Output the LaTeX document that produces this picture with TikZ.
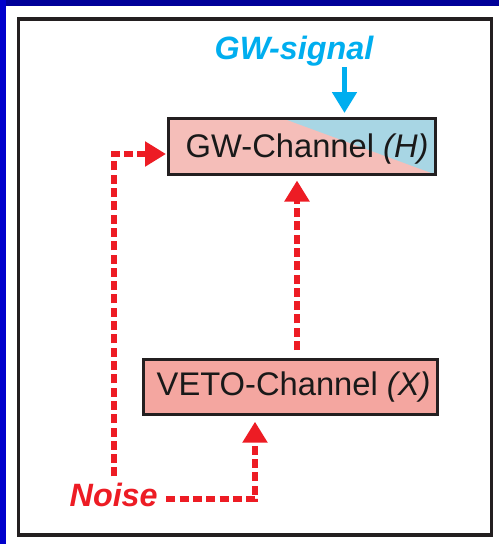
\documentclass[tikz,border=0pt]{standalone}
\usepackage{fontspec}
\setmainfont{Liberation Sans}
\usetikzlibrary{arrows.meta,calc}
\definecolor{topblue}{RGB}{0,0,153}
\definecolor{leftblue}{RGB}{0,0,204}
\definecolor{framegray}{RGB}{35,31,32}
\definecolor{nred}{RGB}{237,28,36}
\definecolor{scyan}{RGB}{0,174,239}
\definecolor{gwpink}{RGB}{245,190,185}
\definecolor{gwblue}{RGB}{168,214,228}
\definecolor{vetopink}{RGB}{244,166,160}
\begin{document}
\begin{tikzpicture}[x=1pt,y=-1pt,
  chbox/.style={draw=framegray, line width=3pt, inner sep=0pt, rectangle},
  chtext/.style={inner sep=0pt, anchor=base west, font=\fontsize{32.7}{38}\selectfont, text=black!90},
  bigred/.style={inner sep=0pt, anchor=base west, font=\fontsize{32.3}{38}\selectfont\bfseries\itshape, text=nred},
  bigcyan/.style={inner sep=0pt, anchor=base west, font=\fontsize{32.3}{38}\selectfont\bfseries\itshape, text=scyan},
  redarrow/.style={draw=nred, line width=5.5pt, dash pattern=on 9pt off 4.3pt,
    -{Triangle[width=24pt,length=21pt]}},
  cyanarrow/.style={draw=scyan, line width=5pt, -{Triangle[width=24pt,length=21pt]}}
]
\useasboundingbox (0,0) rectangle (499,544);
\fill[white] (0,0) rectangle (499,544);
\fill[topblue] (0,0) rectangle (499,6);
\fill[leftblue] (0,0) rectangle (6,544);
\draw[framegray, line width=3.5pt] (18.5,19) rectangle (491.5,535);

% channel boxes
\node[chbox, fill=gwpink, minimum width=267pt, minimum height=56pt,
  path picture={\fill[gwblue]
    ($(path picture bounding box.north west)!0.429!(path picture bounding box.north east)$)
    -- (path picture bounding box.north east)
    -- (path picture bounding box.south east) -- cycle;}] (gw) at (302,146.5) {};
\node[chbox, fill=vetopink, minimum width=294pt, minimum height=55pt] (veto) at (290.5,387) {};

% texts
\node[chtext] (gwtext) at (185.5,157) {GW-Channel \textit{(H)}};
\node[chtext] (vetotext) at (156.5,395) {VETO-Channel \textit{(X)}};
\node[bigcyan] (signal) at (214.5,59) {GW-signal};
\node[bigred] (noise) at (69.5,506) {Noise};

% helper corners
\coordinate (sigstart) at (344.5,67);
\coordinate (lc) at (114,154);
\coordinate (rc) at (255,499);

% connectors
\draw[cyanarrow, shorten >=4pt] (sigstart) -- (sigstart |- gw.north);
\draw[redarrow, shorten <=8pt, shorten >=4.5pt] ([xshift=6.5pt]veto.north) -- ([xshift=6.5pt]veto.north |- gw.south);
\draw[redarrow, shorten <=6pt, shorten >=1pt] (noise.north -| lc) -- (lc) -- (lc -| gw.west);
\draw[redarrow, shorten <=8.5pt, shorten >=5.7pt] (noise.east |- rc) -- (rc) -- (rc |- veto.south);
\end{tikzpicture}
\end{document}
